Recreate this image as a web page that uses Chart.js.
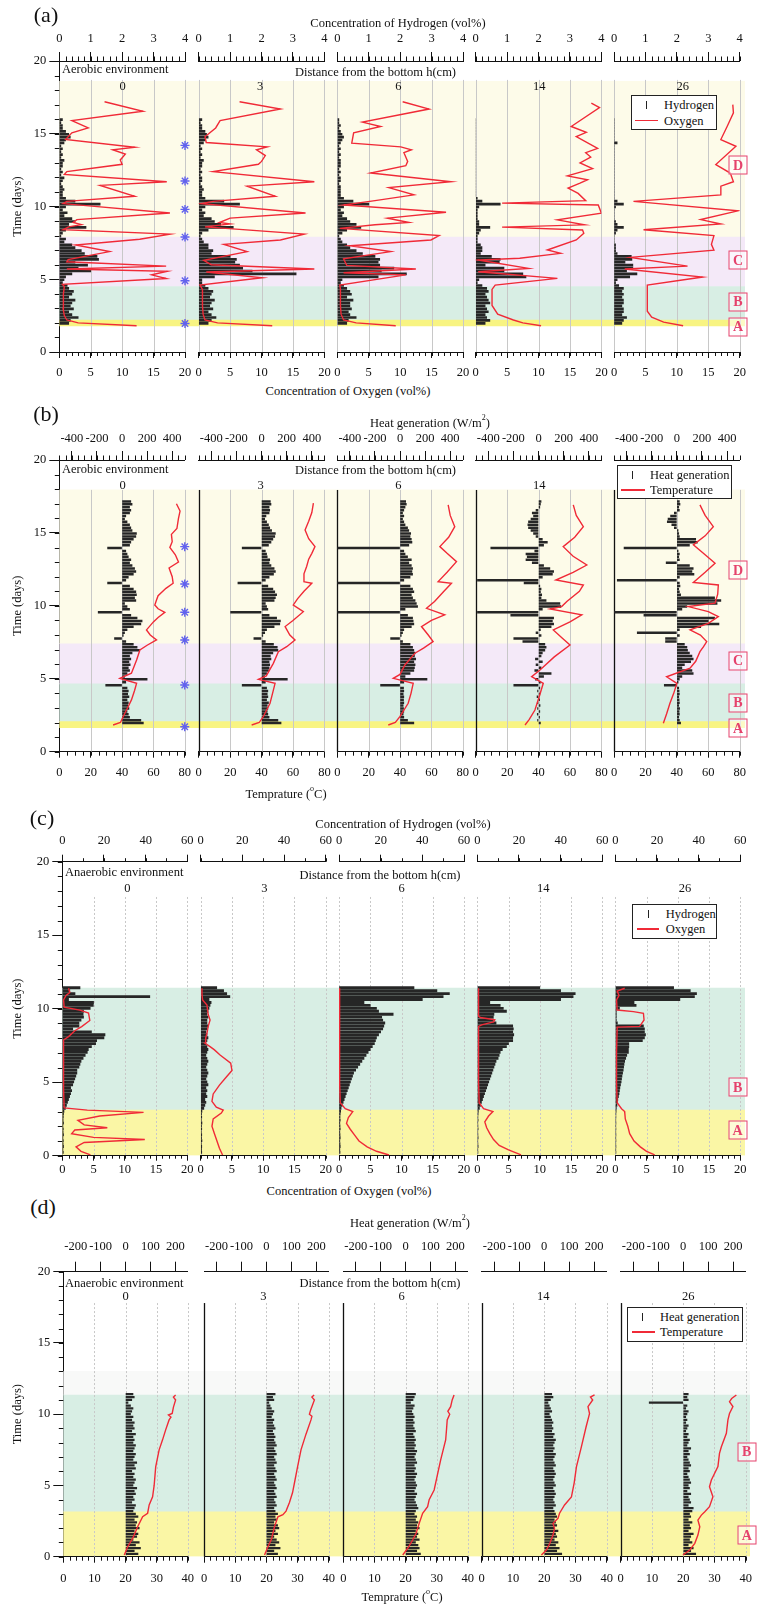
<!DOCTYPE html>
<html><head><meta charset="utf-8"><title>Hydrogen / oxygen / heat profiles</title>
<script src="https://cdn.jsdelivr.net/npm/chart.js@4.4.1/dist/chart.umd.min.js"></script>
<style>
html,body{margin:0;padding:0;background:#fff}
body{position:relative;width:760px;height:1604px;overflow:hidden;font-family:"Liberation Serif","Times New Roman",serif;color:#111}
canvas{position:absolute}
.t{position:absolute;white-space:nowrap;font-size:12.5px;line-height:15px;transform:translate(-50%,-50%)}
.tl{position:absolute;white-space:nowrap;font-size:12.5px;line-height:15px;transform:translate(0,-50%)}
.pl{position:absolute;white-space:nowrap;font-size:22px;line-height:24px;transform:translate(-50%,-50%)}
.lg{position:absolute;background:#fff;border:1.3px solid #222;box-sizing:border-box}
.rb{position:absolute;width:19px;height:19px;border:1.6px solid #e5426c;color:#e5426c;font-size:14px;font-weight:bold;box-sizing:border-box;display:flex;align-items:center;justify-content:center;transform:translate(-50%,-50%);background:rgba(255,255,255,0.55);line-height:14px}
sup{font-size:8px;line-height:8px;vertical-align:top;position:relative;top:-2px}
</style></head><body>
<script>
// ================= DATA =================
// tick label values
const timeTicks = [0,5,10,15,20];
const aTopTicks = [0,1,2,3,4];
const aBotTicks = [0,5,10,15,20];
const bTopTicks = [-400,-200,0,200,400];
const bBotTicks = [0,20,40,60,80];
const cTopTicks = [0,20,40,60];
const cBotTicks = [0,5,10,15,20];
const dTopTicks = [-200,-100,0,100,200];
const dBotTicks = [0,10,20,30,40];
const heights = ['0','3','6','14','26'];

// stage bands [from day, to day]
const aBands = [[1.8,2.2],[2.2,4.5],[4.5,7.9],[7.9,18.6]];
const bBands = [[1.65,2.06],[2.06,4.65],[4.65,7.4],[7.4,17.95]];
const cBands = [[0,3.1],[3.1,11.4]];
const dBands = [[0,3.15],[3.15,11.35],[11.35,13.0]];

// asterisk markers (days)
const aStars = [1.96,4.9,7.9,9.8,11.75,14.2];
const bStars = [1.71,4.57,7.66,9.56,11.5,14.06];

// ---- (a) aerobic: hydrogen bars (vol%) ----
const aBarTimes = [1.9,2.1,2.3,2.5,2.7,2.9,3.1,3.3,3.5,3.7,3.9,4.1,4.3,4.5,4.7,4.9,5.1,5.3,5.5,5.7,5.9,6.1,6.3,6.5,6.7,6.9,7.1,7.3,7.5,7.7,7.9,8.1,8.3,8.5,8.7,8.9,9.1,9.3,9.5,9.7,9.9,10.1,10.3,10.5,10.7,10.9,11.1,11.3,11.5,11.7,11.9,12.1,12.3,12.5,12.7,12.9,13.1,13.3,13.5,13.7,13.9,14.1,14.3,14.5,14.7,14.9,15.1,15.3,15.5,15.7,15.9];
const a0_H2 = [0.3,0.35,0.6,0.4,0.3,0.45,0.35,0.4,0.5,0.3, 0.4,0.45,0.3,0.25,0.1,0.15,0.2,0.4,1.0,0.6, 0.9,0.5,1.25,1.2,0.8,0.7,0.5,0.4,0.15,0.2, 0.05,0.1,0.2,0.85,0.3,0.5,0.4,0.15,0.25,0.1, 0.2,1.3,0.5,0.2,0.1,0.1,0.15,0.1,0.05,0.1, 0.15,0.05,0.1,0.05,0.1,0.1,0.15,0.05,0.1,0.05, 0.1,0.05,0.15,0.2,0.35,0.3,0.2,0.1,0.1,0.05,0.1];
const a3_H2 = [0.3,0.4,0.55,0.4,0.3,0.45,0.35,0.4,0.5,0.35, 0.4,0.45,0.3,0.2,0.1,0.1,0.5,3.1,1.7,1.4, 1.3,1.15,1.2,1.0,0.4,0.45,0.3,0.3,0.15,0.1, 0.05,0.1,0.3,1.1,0.7,0.5,0.4,0.15,0.2,0.1, 0.2,1.3,0.8,0.2,0.1,0.1,0.15,0.1,0.05,0.1, 0.1,0.05,0.1,0.05,0.1,0.1,0.15,0.05,0.1,0.05, 0.1,0.05,0.15,0.2,0.3,0.25,0.2,0.1,0.1,0.05,0.1];
const a6_H2 = [0.3,0.35,0.6,0.4,0.35,0.45,0.4,0.4,0.5,0.3, 0.45,0.4,0.3,0.2,0.1,0.15,1.3,2.2,1.4,1.8, 1.35,1.3,1.35,1.2,0.8,0.6,0.4,0.3,0.15,0.1, 0.05,0.15,0.3,0.75,0.6,0.4,0.3,0.15,0.2,0.1, 0.2,1.0,0.5,0.2,0.1,0.1,0.1,0.1,0.05,0.1, 0.1,0.05,0.1,0.05,0.1,0.1,0.1,0.05,0.1,0.05, 0.1,0.05,0.1,0.15,0.2,0.15,0.1,0.05,0.1,0.05,0.05];
const a14_H2 = [0.3,0.45,0.35,0.3,0.4,0.35,0.3,0.45,0.4,0.35, 0.3,0.4,0.35,0.2,0.05,0.1,1.6,1.5,0.9,0.9, 0.3,0.75,0.78,0.5,0.15,0.2,0.2,0.15,0.05,0.05, 0.05,0.1,0.15,0.45,0.1,0.1,0.05,0.05,0.05,0.05, 0.1,0.78,0.2,0.05,0,0,0,0,0,0, 0,0,0,0,0,0,0,0,0,0, 0,0,0,0,0,0,0,0,0,0,0];
const a26_H2 = [0.25,0.3,0.4,0.25,0.3,0.3,0.25,0.3,0.3,0.25, 0.3,0.25,0.3,0.15,0.05,0.1,0.5,0.73,0.4,0.6, 0.6,0.35,0.57,0.55,0.1,0.05,0.05,0.05,0,0, 0,0.05,0.1,0.3,0.1,0.05,0,0,0,0, 0.05,0.3,0.1,0,0,0,0,0,0,0, 0,0,0,0,0,0,0,0,0,0, 0,0,0.1,0,0,0,0,0,0,0,0];
// ---- (a) oxygen lines [day, vol%] ----
const a0_O2 = [[1.8,12.3],[2.0,3],[2.2,1.2],[2.5,0.8],[3.0,0.6],[3.5,0.6],[4.0,0.7],[4.5,0.8],[4.65,0.5],[5.05,17],[5.3,14.7],[5.55,17.2],[5.7,1.2],[5.9,17],[6.2,1.2],[6.35,1.4],[6.9,8],[7.35,2.6],[7.75,12.8],[8.1,17.6],[8.4,0.6],[8.6,1.5],[8.75,3.5],[8.9,2.2],[9.1,2.8],[9.55,17.6],[10.2,0.6],[10.35,1.2],[10.7,12],[11.45,6.5],[11.7,17.1],[12.2,0.8],[12.4,1.2],[12.9,10],[13.2,9.7],[13.6,10.5],[13.9,8.5],[14.07,12],[14.6,1],[15.06,2],[15.4,4.6],[15.9,2],[16.55,13.3],[17.2,7.2]];
const a3_O2 = [[1.8,11.7],[2.0,3],[2.2,1],[2.6,0.7],[3.2,0.6],[3.8,0.6],[4.3,0.6],[4.6,0.2],[5.1,10.1],[5.5,1.2],[5.7,18.4],[6.0,2],[6.3,0.8],[6.9,7.7],[7.4,4],[7.7,13],[8.1,16.8],[8.6,1],[8.8,5],[8.9,3.3],[9.2,5],[9.55,17],[10.2,0.5],[10.35,2.3],[10.7,12.2],[11.4,7.7],[11.7,18.4],[12.4,2.3],[12.9,9.5],[13.1,10],[13.5,10.6],[13.9,9.2],[14.1,10.9],[14.4,1.2],[14.8,1],[15.4,2.7],[15.9,3.4],[16.7,13],[17.2,6.5]];
const a6_O2 = [[1.8,9.3],[2.0,3],[2.2,1],[2.6,0.6],[3.2,0.5],[3.8,0.5],[4.3,0.5],[4.6,0.4],[5.3,10.9],[5.45,1],[5.7,12.5],[5.95,1.5],[6.4,1],[6.9,8.5],[7.3,2],[7.7,14.9],[8.0,16.2],[8.5,0.4],[8.75,6],[8.9,11.4],[9.2,8],[9.6,17.3],[10.1,1],[10.4,6],[10.8,12.2],[11.3,8.2],[11.7,18.1],[12.3,5.3],[12.8,10.9],[13.1,11.2],[13.7,10.6],[13.9,11.8],[14.1,10.1],[14.35,2.3],[15.06,2.6],[15.5,6.9],[15.8,4],[16.7,14.6],[17.2,10.4]];
const a14_O2 = [[1.8,10.4],[2.0,7.5],[2.2,6],[2.6,3.5],[3.2,2.6],[3.8,2.6],[4.3,2.6],[4.6,3.1],[5.06,13],[5.52,0.4],[5.75,8.4],[6.32,0.4],[6.44,7],[6.78,13.5],[7.01,11.4],[7.7,16],[8.16,17.2],[8.39,17],[8.58,4.2],[8.74,17.3],[9.08,13],[9.54,20],[10.1,19.5],[10.23,4.2],[10.4,17.5],[10.9,16.3],[11.27,14.7],[11.6,16.6],[11.84,17.8],[12.1,14.6],[12.6,18.6],[13.0,16.6],[13.4,18.3],[13.7,17.5],[14.0,19.4],[14.8,16],[15.1,17.6],[15.5,15.2],[16.8,19.7],[17.1,18.4]];
const a26_O2 = [[1.8,11],[2.05,7.9],[2.4,6],[2.8,5.3],[3.5,5.3],[4.2,5.3],[4.6,5.3],[5.15,14.1],[5.7,1.7],[5.9,11.7],[6.5,2.6],[7.0,15.9],[7.4,15.5],[8.0,15.9],[8.4,4.7],[8.8,17],[9.1,13.8],[9.7,19.7],[10.35,3.1],[10.8,17],[11.4,17],[11.7,19],[12.3,18.5],[12.88,16.2],[14.14,19.4],[14.6,17],[15.5,18],[16.44,19],[17.0,18.9]];

// ---- (b) aerobic: heat generation bars (W/m2) ----
const bBarTimes = [1.9,2.1,2.3,2.5,2.7,2.9,3.1,3.3,3.5,3.7,3.9,4.1,4.3,4.5,4.7,4.9,5.1,5.3,5.5,5.7,5.9,6.1,6.3,6.5,6.7,6.9,7.1,7.3,7.5,7.7,7.9,8.1,8.3,8.5,8.7,8.9,9.1,9.3,9.5,9.7,9.9,10.1,10.3,10.5,10.7,10.9,11.1,11.3,11.5,11.7,11.9,12.1,12.3,12.5,12.7,12.9,13.1,13.3,13.5,13.7,13.9,14.1,14.3,14.5,14.7,14.9,15.1,15.3,15.5,15.7,15.9,16.1,16.3,16.5,16.7,16.9,17.1];
const b0_Q = [170,150,60,50,40,55,45,50,40,55, 45,50,40,-130,30,200,20,40,60,50, 65,55,70,60,80,140,120,90,30,-60, 10,20,40,90,150,160,120,70,-190,60, 40,20,110,100,115,110,90,60,-115,30, 50,90,110,100,80,60,70,50,40,30, -115,60,70,90,110,115,80,70,60,40, 20,30,60,70,60,80,70];
const b3_Q = [155,130,60,50,45,50,45,55,40,50, 45,50,40,-154,30,205,25,40,55,60, 65,60,75,70,90,130,125,95,30,-61, 10,25,40,100,145,150,120,60,-246,50, 40,30,100,110,120,105,90,50,-188,30, 60,95,110,100,75,60,65,45,40,30, -154,55,75,90,105,110,80,65,55,40, 25,35,60,65,60,75,70];
const b6_Q = [110,60,30,25,30,28,25,30,28,30, 25,30,28,-155,30,215,40,80,110,115, 120,110,125,115,120,110,100,80,20,-75, 10,20,30,90,110,105,100,60,-500,40, 140,130,120,100,90,110,100,80,-500,30, 80,100,95,100,90,70,90,60,40,30, -500,70,95,90,80,85,70,60,40,30, 20,30,20,30,40,50,45];
const b14_Q = [15,-8,8,-10,10,-8,12,-10,8,-12, 10,-8,10,-197,15,-25,40,100,-30,20, -20,30,-25,20,30,50,60,50,-125,-197, 20,-20,15,100,120,110,120,-221,-486,30, 177,170,60,20,25,15,20,10,-115,-486, 30,110,120,90,40,-50,-100,-90,-100,-30, -380,40,70,30,-20,-40,-60,-80,-85,-80, -60,-40,-50,-20,10,15,20];
const b26_Q = [30,20,15,20,18,22,15,20,18,15, 20,18,15,-100,10,20,40,130,120,40, 60,110,130,120,100,85,80,60,-90,-90, 20,-315,20,190,335,250,300,-262,-500,40, 80,320,350,300,30,20,15,25,20,-474, 20,136,120,130,100,-85,20,15,20,10, -420,100,163,150,20,15,10,-20,-40,-76, -70,-50,-20,20,15,25,20];
// ---- (b) temperature lines [day, degC] ----
const b0_T = [[1.83,34.3],[2.0,39],[2.4,40.7],[3.0,43.5],[3.55,46],[4.2,48],[4.69,49.3],[5.03,38.6],[5.38,46],[6.29,49.3],[6.97,51.4],[7.3,56],[7.66,62],[8.0,58],[8.35,55.6],[8.9,60],[9.2,63],[9.55,67.3],[9.8,63],[10.06,60.9],[10.4,62],[10.7,63],[11.2,68],[11.55,72.6],[12.0,72],[12.6,70],[13.0,76],[13.5,74],[14.0,70.5],[14.4,72],[14.9,71.5],[15.3,75],[16.0,76],[16.5,77],[17.0,74.7]];
const b3_T = [[1.83,33.7],[2.0,38.5],[2.4,41.1],[3.32,45.4],[4.0,47],[4.69,48.6],[4.96,38],[5.2,43],[6.06,47.5],[6.86,50.7],[7.2,56],[7.66,61.3],[8.0,58],[8.58,55],[9.0,60],[9.6,66.6],[10.06,60.2],[10.5,63],[11.0,67],[11.55,72],[11.66,66.6],[12.2,67],[12.7,68.7],[13.2,70],[13.6,72],[14.06,74],[14.6,70],[15.2,67.7],[15.8,70],[16.4,72],[17.04,73]];
const b6_T = [[1.83,32.5],[2.0,37],[2.4,39.9],[3.32,45.2],[4.0,47],[4.69,48.4],[5.03,35.7],[5.3,40],[5.95,43.1],[6.75,49.5],[7.1,55],[7.55,61.1],[8.0,58],[8.58,53.7],[9.0,60],[9.38,68.5],[9.83,56.9],[10.3,62],[11.0,68],[11.55,72.8],[11.66,64.3],[12.3,70],[13.03,76],[13.6,70],[14.06,65.4],[14.7,71],[15.43,74.9],[16.2,72],[16.92,70.7]];
const b14_T = [[1.83,31.4],[2.2,34],[2.86,37.7],[3.8,40.5],[4.69,43],[5.14,35.6],[5.6,40.9],[6.5,50],[7.32,60],[7.8,55],[8.35,49.4],[8.9,60],[9.38,67.5],[9.78,47.3],[9.95,54.7],[10.3,58],[11.0,66],[11.43,68.5],[11.77,51],[12.3,62],[12.8,70.7],[13.4,62],[14.06,55.7],[14.7,63],[15.43,68.5],[16.2,64],[16.92,62.1]];
const b26_T = [[1.95,31.4],[2.6,33.5],[3.32,35.6],[4.0,38],[4.69,40],[5.14,33.5],[5.72,48.4],[6.2,52],[6.86,54.7],[7.2,57],[7.55,59],[8.0,55],[8.35,48.4],[8.8,60],[9.26,66.4],[9.6,60],[9.95,47.3],[10.18,64.3],[10.8,66],[11.43,66.4],[11.6,50.5],[12.3,58],[12.92,64.3],[13.5,58],[14.18,50.5],[14.8,58],[15.43,63.2],[16.2,58],[16.92,54.7]];

// ---- (c) anaerobic: hydrogen bars (vol%) ----
const anaBarTimes = [0.15,0.35,0.55,0.75,0.95,1.15,1.35,1.55,1.75,1.95,2.15,2.35,2.55,2.75,2.95,3.15,3.35,3.55,3.75,3.95,4.15,4.35,4.55,4.75,4.95,5.15,5.35,5.55,5.75,5.95,6.15,6.35,6.55,6.75,6.95,7.15,7.35,7.55,7.75,7.95,8.15,8.35,8.55,8.75,8.95,9.15,9.35,9.55,9.75,9.95,10.15,10.35,10.55,10.75,10.95,11.15,11.35];
const c0_H2 = [0.5,0.3,0.6,0.4,0.5,0.3,0.6,0.4,0.5,0.3, 0.6,0.4,0.5,0.6,0.8,1.5,2,2.5,3,3.5, 4,4.5,4,5,5.5,6,6.5,7,7,8, 8.5,9,10,11,12,12.5,14,16,16.5,20, 20.5,14,5,8,8,9,10.2,10,10.2,13.4, 14.9,15,3,42,6.1,3.6,8.5];
const c3_H2 = [0.5,0.4,0.5,0.3,0.6,0.4,0.5,0.3,0.5,0.4, 0.6,0.3,0.5,0.4,0.6,1.5,2,2.5,2,3, 2.5,3,2.5,3.5,3,2.5,3,3.5,3,2.5, 3,3.5,3,2.5,3,3.5,3,2.5,3,3.5, 3,2.5,3,3.5,3,3,3.5,3,3.5,4, 4.5,5,4,14,12.5,11,7.7];
const c6_H2 = [0.5,0.4,0.6,0.5,0.4,0.6,0.5,0.4,0.6,0.5, 0.4,0.6,0.5,0.6,0.8,1,1.5,2,2.5,3, 3.5,4,4.5,5,5.5,6,6.5,7,8,9, 10,11,12,13,14,15,16,17,17.5,18, 19,20,21,21.5,22,21,20.5,26,19,18, 15,12,40,50,53,47,36];
const c14_H2 = [0.3,0.2,0.4,0.3,0.2,0.4,0.3,0.2,0.4,0.3, 0.2,0.4,0.3,0.4,0.5,1,1.5,2,2.5,3, 3.5,4,4.5,5,5.5,6,6.5,7,7.5,8, 8.5,9,10,10.5,11,12,14,15,17,17, 17.5,17,17.3,17,9,7.7,7.7,8,14,12.5, 11,6,40,46,47,40,30];
const c26_H2 = [0.3,0.2,0.3,0.2,0.3,0.2,0.3,0.2,0.3,0.2, 0.3,0.2,0.3,0.3,0.4,0.5,0.8,1,1.2,1.5, 1.8,2,2.2,2.5,2.8,3,3.2,3.5,3.8,4, 4.2,4.5,5,5.5,6.3,6.3,6.5,6.5,13,14, 14.5,14,14,13.5,1,0.5,0.5,0.5,0.5,2, 10,9,31,38,39,36,28];
// ---- (c) oxygen lines [day, vol%] ----
const c0_O2 = [[0.05,4.5],[0.3,3],[0.6,2.2],[0.9,3.5],[1.1,13.2],[1.25,5],[1.5,1.5],[1.75,2],[1.9,7.2],[2.1,3.5],[2.4,2.5],[2.7,6],[2.95,13],[3.1,4],[3.25,0.3],[4.5,0.2],[6,0.2],[7.87,0.2],[8.1,1],[8.5,2],[8.78,3.1],[9.2,4.4],[9.7,4.2],[9.9,2.8],[10.1,0.3],[10.6,0.2],[10.9,0.6],[11.1,1.2],[11.39,1]];
const c3_O2 = [[0.05,3.5],[0.5,3],[1.0,2.6],[1.5,2.2],[2.0,1.8],[2.5,2],[2.9,3.3],[3.1,3.6],[3.3,2.5],[3.7,1.8],[4.2,2],[4.8,3],[5.3,4],[5.8,5],[6.3,4.8],[6.85,3.1],[7.2,2.2],[7.42,1.5],[7.65,0.7],[8.0,0.8],[8.33,1],[8.8,1.2],[9.23,1.5],[9.6,1.2],[9.91,1.1],[10.25,1],[10.6,0.3],[11.0,0.2],[11.39,0.2]];
const c6_O2 = [[0.05,8],[0.3,6],[0.6,4.5],[1.0,3.2],[1.4,2.5],[1.8,1.8],[2.2,1.2],[2.6,1.5],[3.0,2.2],[3.2,1],[3.6,0.2],[5,0.1],[7,0.1],[9,0.1],[11.39,0.1]];
const c14_O2 = [[0.05,7],[0.4,5],[0.7,3.5],[1.1,2.6],[1.5,2],[1.9,1.5],[2.3,1.2],[2.7,1.8],[3.0,2.5],[3.2,1],[3.6,0.3],[5,0.2],[7,0.2],[8.8,0.2],[8.9,0.7],[9.1,2.6],[9.25,2.8],[9.4,0.5],[9.5,0.2],[11.39,0.2]];
const c26_O2 = [[0.05,6.3],[0.3,5],[0.6,4],[1.0,3],[1.5,2.3],[2.0,2],[2.5,1.6],[3.0,1.5],[3.2,1],[3.6,0.3],[5,0.2],[7,0.2],[8.75,0.3],[8.8,3.9],[9.23,4.6],[9.69,4.5],[9.8,2.9],[9.91,0.3],[10.6,0.2],[10.9,0.6],[11.2,0.3],[11.39,1.5]];

// ---- (d) anaerobic: heat generation bars (W/m2) ----
const d0_Q = [50,35,60,40,55,30,45,50,35,55, 40,45,35,50,40,30,35,40,25,35, 30,40,35,45,30,35,40,30,35,25, 40,35,45,30,35,40,30,35,40,30, 35,30,40,25,35,30,35,25,30,20, 25,30,20,10,25,35,30];
const d3_Q = [45,30,55,35,50,40,30,45,35,50, 45,30,40,35,45,35,30,40,35,30, 40,35,30,40,35,30,40,35,30,40, 35,30,40,35,30,40,35,30,40,35, 30,35,30,25,35,30,25,30,20,25, 30,20,15,10,30,25,35];
const d6_Q = [60,45,55,50,40,55,45,50,40,55, 45,50,40,45,35,40,50,45,40,35, 40,45,35,40,45,40,35,40,45,35, 40,35,45,40,35,40,45,35,40,35, 40,35,30,40,35,30,35,30,35,30, 25,30,35,20,30,35,40];
const d14_Q = [70,50,60,45,55,40,50,45,55,40, 50,45,40,50,45,40,35,45,40,35, 40,45,40,35,45,40,35,40,45,40, 35,45,40,35,40,45,35,40,35,40, 45,35,40,30,35,30,35,30,25,20, 30,25,20,15,25,35,30];
const d26_Q = [50,30,40,20,35,25,30,40,20,30, 25,35,20,30,25,35,40,20,30,25, 20,30,15,25,20,30,25,20,15,25, 20,30,25,20,15,25,20,30,15,20, 25,15,20,10,15,20,10,15,10,15, 20,10,15,-136,20,15,20];
// ---- (d) temperature lines [day, degC] ----
const d0_T = [[0.12,19.6],[0.7,20.7],[1.29,22.3],[2.1,23.9],[2.8,25.5],[3.05,27.1],[3.63,27.6],[4.2,28.7],[5.0,29.2],[6.3,29.7],[7.5,30.8],[8.2,31.9],[8.9,32.9],[9.6,34],[9.8,34.6],[9.94,33.8],[10.05,35],[10.5,35.4],[11.0,36.1],[11.2,35.4],[11.35,36.1]];
const d3_T = [[0.12,19.4],[0.7,20.5],[1.2,21.6],[2.1,22.6],[2.8,23.7],[2.95,25.3],[3.2,26.3],[3.8,27.4],[4.5,28.4],[5.4,29.2],[6.3,30],[7.5,31.1],[8.6,32.7],[9.6,34.3],[9.85,34.6],[10.0,33.8],[10.3,34.2],[11.0,35.4],[11.2,34.6],[11.35,35.3]];
const d6_T = [[0.12,19.1],[0.59,20.7],[1.17,22.3],[1.64,23.4],[2.34,24.4],[3.05,25.5],[3.51,27.1],[4.0,27.6],[4.68,29.2],[5.8,30.3],[6.79,31.3],[8.19,32.9],[9.0,33.2],[9.6,33.4],[10.0,34.2],[10.2,33.6],[10.53,34.5],[11.0,35],[11.35,35.6]];
const d14_T = [[0.12,19.1],[0.47,20.7],[0.94,21.8],[1.52,22.8],[1.99,23.3],[2.34,22.8],[2.69,24.4],[3.05,24.9],[3.63,26.5],[4.2,28.7],[5.2,29.6],[6.3,30.3],[7.72,31.9],[9.12,33.4],[9.8,34.2],[10.05,34.5],[10.53,34],[11.0,35.5],[11.2,34.8],[11.35,36.1]];
const d26_T = [[0.12,19.9],[0.47,22.1],[0.94,23.7],[1.52,24.7],[2.1,25.3],[2.57,24.7],[2.92,25.8],[3.16,26.9],[3.51,28.4],[4.2,29.5],[4.91,28.4],[5.38,29],[6.32,31.1],[7.25,31.6],[7.72,32.2],[8.66,33.8],[9.6,34.3],[10.05,34.8],[10.53,35.9],[10.88,34.8],[11.1,35.5],[11.35,37]];

// ================= STYLE / LAYOUT =================
const FONT = '"Liberation Serif","Times New Roman",serif';
const RED = 'rgb(240,42,55)';
const BARC = '#262626';
const YEL = 'rgb(250,246,165)', YEL2 = 'rgb(248,244,130)', TEAL = 'rgb(216,238,228)', LAV = 'rgb(244,233,248)', CREAM = 'rgb(253,251,233)', GREYB = 'rgb(248,249,248)';
Chart.defaults.font.family = FONT;

const PANELS = [
 { subL:[59.3,198.7,337.3,475.7,614], subW:125.7, y20:61, y0:352, gridTop:18.7, dash:null, spine:false, bandRight:745,
   top:{min:0,max:4,ticks:aTopTicks,minor:0.2,tl:9,ml:4.5,pad:5.5,h:32},
   bot:{min:0,max:20,ticks:aBotTicks,minor:1,tl:6,ml:4,pad:7.5,h:30},
   bands:aBands, bandColors:[YEL2,TEAL,LAV,CREAM], times:aBarTimes,
   bars:[a0_H2,a3_H2,a6_H2,a14_H2,a26_H2], lines:[a0_O2,a3_O2,a6_O2,a14_O2,a26_O2], barTh:2, stars:aStars },
 { subL:[59.3,198.7,337.3,475.7,614], subW:125.7, y20:460, y0:751.7, gridTop:17.95, dash:null, spine:true, bandRight:745,
   top:{min:-500,max:500,ticks:bTopTicks,minor:50,tl:9,ml:4.5,pad:4.5,h:31},
   bot:{min:0,max:80,ticks:bBotTicks,minor:5,tl:6,ml:4,pad:8,h:30},
   bands:bBands, bandColors:[YEL2,TEAL,LAV,CREAM], times:bBarTimes,
   bars:[b0_Q,b3_Q,b6_Q,b14_Q,b26_Q], lines:[b0_T,b3_T,b6_T,b14_T,b26_T], barTh:1.8, stars:bStars },
 { subL:[62.3,200.7,339,477.3,615.3], subW:125, y20:861.7, y0:1155.7, gridTop:17.6, dash:[2,2], spine:false, bandRight:745,
   top:{min:0,max:60,ticks:cTopTicks,minor:10,tl:7,ml:3.5,pad:6,h:30},
   bot:{min:0,max:20,ticks:cBotTicks,minor:1,tl:5,ml:3,pad:1.5,h:24},
   bands:cBands, bandColors:[YEL,TEAL], times:anaBarTimes,
   bars:[c0_H2,c3_H2,c6_H2,c14_H2,c26_H2], lines:[c0_O2,c3_O2,c6_O2,c14_O2,c26_O2], barTh:2.2, stars:null },
 { subL:[63.3,204,343.3,481.7,620.7], subW:125.5, y20:1271.7, y0:1556.7, gridTop:17.8, dash:[2,2], spine:true, bandRight:750,
   top:{min:-250,max:250,ticks:dTopTicks,minor:0,tl:10,ml:0,pad:7,h:34},
   bot:{min:0,max:40,ticks:dBotTicks,minor:2,tl:6,ml:4,pad:9,h:33},
   bands:dBands, bandColors:[YEL,TEAL,GREYB], times:anaBarTimes,
   bars:[d0_Q,d3_Q,d6_Q,d14_Q,d26_Q], lines:[d0_T,d3_T,d6_T,d14_T,d26_T], barTh:1.6, stars:null }
];

// ================= PLUGINS =================
const minorPlugin = { id:'pminor', afterDraw(chart){
  const list = chart.canvas._cfg && chart.canvas._cfg.minor; if(!list) return;
  const ctx = chart.ctx; ctx.save(); ctx.strokeStyle='#111'; ctx.lineWidth=1; ctx.beginPath();
  list.forEach(m => { if(!m.step) return; const s = chart.scales[m.id];
    const n = Math.round((s.max - s.min)/m.step);
    for (let k=0;k<=n;k++){ const p = Math.round(s.getPixelForValue(s.min + k*m.step)) + 0.5;
      if (m.pos==='top'){ ctx.moveTo(p,s.bottom); ctx.lineTo(p,s.bottom-m.len); }
      else if (m.pos==='bottom'){ ctx.moveTo(p,s.top); ctx.lineTo(p,s.top+m.len); }
      else { ctx.moveTo(s.right,p); ctx.lineTo(s.right-m.len,p); } } });
  ctx.stroke(); ctx.restore(); } };

const gridPlugin = { id:'pgrid', beforeDatasetsDraw(chart){
  const g = chart.canvas._cfg && chart.canvas._cfg.grid; if(!g) return;
  const xs = chart.scales.xBot, ys = chart.scales.y, ctx = chart.ctx;
  const yT = ys.getPixelForValue(g.top), yB = ys.getPixelForValue(0);
  ctx.save(); ctx.lineWidth = 1; ctx.strokeStyle = 'rgb(200,200,200)'; ctx.setLineDash(g.dash || []);
  g.values.forEach(v => { if (g.skipFirst && v === xs.min) return;
    const x = Math.round(xs.getPixelForValue(v)) + 0.5; ctx.beginPath(); ctx.moveTo(x,yT); ctx.lineTo(x,yB); ctx.stroke(); });
  if (g.spine){ ctx.setLineDash([]); ctx.strokeStyle='#111'; ctx.lineWidth=1.3;
    const x = Math.round(xs.getPixelForValue(xs.min)) + 0.5; ctx.beginPath(); ctx.moveTo(x,yT); ctx.lineTo(x,yB); ctx.stroke(); }
  ctx.restore(); } };

// ================= BUILD =================
function mkCanvas(x,y,w,h){ const c=document.createElement('canvas'); c.width=w; c.height=h;
  c.style.left=x+'px'; c.style.top=y+'px'; c.style.width=w+'px'; c.style.height=h+'px'; document.body.appendChild(c); return c; }

function axisCfg(pos, A, h){
  return { type:'linear', position:pos, min:A.min, max:A.max, offset:false, bounds:'data',
    afterFit: s => { s.height = h; },
    afterBuildTicks: s => { s.ticks = A.ticks.map(v => ({value:v})); },
    ticks:{ autoSkip:false, maxRotation:0, minRotation:0, padding:A.pad, color:'#111', font:{family:FONT,size:12.5} },
    grid:{ offset:false, drawOnChartArea:false, drawTicks:true, tickLength:A.tl, color:'#111', lineWidth:1 },
    border:{ display:true, color:'#111', width:1 } };
}

function baseChart(P){
  const cvTop = Math.floor(P.y20 - 12), cvBot = Math.ceil(P.y0 + 12);
  const cv = mkCanvas(0, cvTop, P.bandRight, cvBot - cvTop);
  cv._cfg = { minor:[{id:'y', pos:'left', step:1, len:4.5}] };
  new Chart(cv, { type:'bar',
    data:{ labels:[''], datasets: P.bands.map((b,k) => ({ data:[[b[0],b[1]]], backgroundColor:P.bandColors[k], borderWidth:0, barPercentage:1, categoryPercentage:1, grouped:false })) },
    options:{ responsive:false, animation:false, events:[],
      layout:{ autoPadding:false, padding:{ left:0, right:0, top:P.y20 - cvTop, bottom:cvBot - P.y0 } },
      plugins:{ legend:{display:false}, tooltip:{enabled:false} },
      scales:{
        x:{ display:false },
        y:{ type:'linear', min:0, max:20, position:'left', z:1, offset:false,
            afterFit: s => { s.width = P.subL[0]; },
            afterBuildTicks: s => { s.ticks = timeTicks.map(v => ({value:v})); },
            ticks:{ color:'#111', padding:3, font:{family:FONT,size:12.5} },
            grid:{ offset:false, drawOnChartArea:false, drawTicks:true, tickLength:10, color:'#111' },
            border:{ display:true, color:'#111', width:1 },
            title:{ display:true, text:'Time (days)', color:'#111', font:{family:FONT,size:12.5}, padding:{top:10,bottom:0} } } } },
    plugins:[minorPlugin] });
}

function subChart(P, i){
  const L = P.subL[i], W = P.subW;
  const cvLeft = Math.floor(L - 14), cvRight = Math.ceil(L + W + 14);
  const cvTop = Math.floor(P.y20 - P.top.h), cvBot = Math.ceil(P.y0 + P.bot.h);
  const cv = mkCanvas(cvLeft, cvTop, cvRight - cvLeft, cvBot - cvTop);
  cv._cfg = {
    minor:[{id:'xTop',pos:'top',step:P.top.minor,len:P.top.ml},{id:'xBot',pos:'bottom',step:P.bot.minor,len:P.bot.ml}],
    grid:{ top:P.gridTop, values:P.bot.ticks, dash:P.dash, spine:P.spine && i>0, skipFirst:i===0 } };
  const datasets = [
    { type:'bar', indexAxis:'y', xAxisID:'xTop', yAxisID:'y', order:2,
      data: P.times.map((t,k) => ({x:P.bars[i][k], y:t})), backgroundColor:BARC, borderWidth:0, barThickness:P.barTh },
    { type:'scatter', showLine:true, xAxisID:'xBot', yAxisID:'y', order:1,
      data: P.lines[i].map(p => ({x:p[1], y:p[0]})), borderColor:RED, backgroundColor:RED, borderWidth:1.4, pointRadius:0, fill:false, tension:0 } ];
  if (i === 0 && P.stars) datasets.push({ type:'scatter', xAxisID:'xBot', yAxisID:'y', order:0, clip:false,
      data: P.stars.map(t => ({x:P.bot.max, y:t})), pointStyle:'star', pointRadius:4.5, borderColor:'#6262ee', backgroundColor:'#6262ee', borderWidth:1.4 });
  new Chart(cv, { type:'bar', data:{datasets},
    options:{ responsive:false, animation:false, events:[],
      layout:{ autoPadding:false, padding:{ left:L - cvLeft, right:cvRight - L - W, top:0, bottom:0 } },
      plugins:{ legend:{display:false}, tooltip:{enabled:false} },
      scales:{ xTop:axisCfg('top', P.top, P.y20 - cvTop), xBot:axisCfg('bottom', P.bot, cvBot - P.y0),
               y:{ type:'linear', min:0, max:20, display:false, offset:false, grid:{offset:false} } } },
    plugins:[gridPlugin, minorPlugin] });
}

PANELS.forEach(P => { baseChart(P); for (let i=0;i<5;i++) subChart(P,i); });

// ================= TEXT OVERLAYS =================
function T(x,y,html,cls){ const d=document.createElement('div'); d.className=cls||'t'; d.style.left=x+'px'; d.style.top=y+'px'; d.innerHTML=html; document.body.appendChild(d); return d; }
function box(x1,y1,x2,y2){ const d=document.createElement('div'); d.className='lg'; d.style.left=x1+'px'; d.style.top=y1+'px'; d.style.width=(x2-x1)+'px'; d.style.height=(y2-y1)+'px'; document.body.appendChild(d); }
function mark(x,y,w,h,c){ const d=document.createElement('div'); d.style.cssText=`position:absolute;left:${x}px;top:${y}px;width:${w}px;height:${h}px;background:${c}`; document.body.appendChild(d); }
function legend(b, r1, r2, t1, t2){
  box(b[0],b[1],b[2],b[3]);
  mark(r1.mx-0.8, r1.y-4, 1.6, 8, '#222'); T(r1.tx, r1.y, t1, 'tl');
  mark(r2.lx1, r2.y-0.9, r2.lx2-r2.lx1, 1.8, RED); T(r2.tx, r2.y, t2, 'tl');
}
function rb(x,y,s){ const d=document.createElement('div'); d.className='rb'; d.style.left=x+'px'; d.style.top=y+'px'; d.textContent=s; document.body.appendChild(d); }

// (a)
T(46,15,'(a)','pl');
T(398,23,'Concentration of Hydrogen (vol%)');
T(62,69,'Aerobic environment','tl');
T(375.5,72,'Distance from the bottom h(cm)');
[[122.7],[260],[398.3],[539.3],[682.7]].forEach((p,k)=>T(p[0],86,heights[k]));
T(348,391,'Concentration of Oxygen (vol%)');
legend([630.7,95,716.7,130],{mx:646.7,y:105,tx:664},{lx1:635,lx2:658.3,y:120.5,tx:664},'Hydrogen','Oxygen');
rb(738,165,'D'); rb(738,260,'C'); rb(738,301.7,'B'); rb(738,326.7,'A');

// (b)
T(46,414,'(b)','pl');
T(430,423,'Heat generation (W/m<sup>2</sup>)');
T(62,469,'Aerobic environment','tl');
T(375.5,470,'Distance from the bottom h(cm)');
[[122.7],[260.7],[398.3],[539.3],[676]].forEach((p,k)=>T(p[0],485,heights[k]));
T(286,794,'Temprature (<sup>o</sup>C)');
legend([616.7,465,732.3,499],{mx:632.3,y:475,tx:650},{lx1:620.7,lx2:645,y:490,tx:650},'Heat generation','Temperature');
rb(738,570,'D'); rb(738,660.7,'C'); rb(738,702.7,'B'); rb(738,728.3,'A');

// (c)
T(42,818,'(c)','pl');
T(403,824,'Concentration of Hydrogen (vol%)');
T(65,871.7,'Anaerobic environment','tl');
T(380,875,'Distance from the bottom h(cm)');
[[127.3],[264.3],[401.7],[543.3],[685]].forEach((p,k)=>T(p[0],888.3,heights[k]));
T(349,1191,'Concentration of Oxygen (vol%)');
legend([631.7,904.3,717.3,939],{mx:648.3,y:914,tx:665.7},{lx1:636.7,lx2:659.3,y:929.3,tx:665.7},'Hydrogen','Oxygen');
rb(737.6,1087,'B'); rb(737.6,1130,'A');

// (d)
T(43,1207,'(d)','pl');
T(410,1223,'Heat generation (W/m<sup>2</sup>)');
T(65,1283,'Anaerobic environment','tl');
T(380,1283,'Distance from the bottom h(cm)');
[[125.7],[263.3],[401.7],[543.3],[688.3]].forEach((p,k)=>T(p[0],1296,heights[k]));
T(402,1597,'Temprature (<sup>o</sup>C)');
legend([626.7,1306.7,742.7,1342.3],{mx:642.7,y:1317.3,tx:660},{lx1:631.7,lx2:655,y:1332.3,tx:660},'Heat generation','Temperature');
rb(746.7,1451.7,'B'); rb(746.7,1535,'A');
</script>
</body></html>
